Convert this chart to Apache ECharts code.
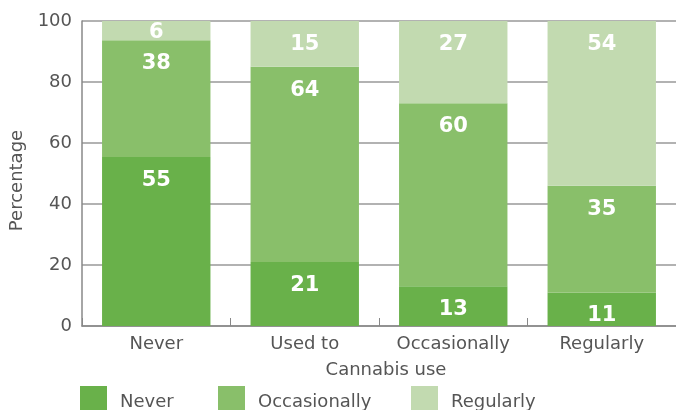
<!DOCTYPE html>
<html>
<head>
<meta charset="utf-8">
<script src="https://cdn.jsdelivr.net/npm/echarts@6/dist/echarts.min.js"></script>
<style>
  html, body { margin: 0; padding: 0; background: #fff; }
  #chart { width: 676px; height: 410px; }
</style>
</head>
<body>
<div id="chart"></div>
<script>
// categories and values (labels are rounded values)
var categories = ['Never', 'Used to', 'Occasionally', 'Regularly'];
var neverVals = [55.4, 21, 13, 11];
var occasionallyVals = [38.3, 64, 60, 35];
var regularlyVals = [6.3, 15, 27, 54];
var yTicks = [0, 20, 40, 60, 80, 100];

var font = 'DejaVu Sans, Verdana, sans-serif';
var colors = ['#69b14a', '#89bf6a', '#c2dab0'];

function makeLabel() {
  return {
    show: true,
    position: 'insideTop',
    distance: 13,
    color: '#fff',
    fontFamily: font,
    fontWeight: 'bold',
    fontSize: 21,
    formatter: function (p) { return Math.round(p.value); }
  };
}

// small top segments need the label pulled up
function regData(vals) {
  return vals.map(function (v) {
    if (v < 10) return { value: v, label: { distance: 1 } };
    return v;
  });
}

function legendAt(name, left) {
  return {
    left: left,
    top: 386,
    padding: 0,
    itemWidth: 27,
    itemHeight: 24,
    icon: 'rect',
    formatter: '{t|{name}}',
    textStyle: {
      fontFamily: font, fontSize: 18, color: '#555',
      rich: { t: { fontFamily: font, fontSize: 18, color: '#555', padding: [9, 0, 0, 8] } }
    },
    data: [name]
  };
}

var chart = echarts.init(document.getElementById('chart'), null, { renderer: 'canvas' });

var option = {
  animation: false,
  color: colors,
  grid: { left: 82, right: 0, top: 21, bottom: 84 },
  legend: [
    legendAt('Never', 80),
    legendAt('Occasionally', 218),
    legendAt('Regularly', 411)
  ],
  xAxis: {
    type: 'category',
    data: categories,
    name: 'Cannabis use',
    nameLocation: 'middle',
    nameGap: 35,
    nameTextStyle: { fontFamily: font, fontSize: 18, color: '#555', padding: [0, 0, 0, 14] },
    axisLine: { lineStyle: { color: '#888', width: 1.5 } },
    axisTick: { show: true, inside: true, length: 8, lineStyle: { color: '#888' } },
    axisLabel: { fontFamily: font, fontSize: 18, color: '#555', margin: 9 }
  },
  yAxis: {
    type: 'value',
    min: yTicks[0],
    max: yTicks[yTicks.length - 1],
    interval: 20,
    name: 'Percentage',
    nameLocation: 'middle',
    nameGap: 34,
    nameTextStyle: { fontFamily: font, fontSize: 18, color: '#555', padding: [0, 14, 0, 0] },
    axisLine: { show: true, lineStyle: { color: '#888', width: 1.5 } },
    axisTick: { show: false },
    axisLabel: { fontFamily: font, fontSize: 18, color: '#555', margin: 10 },
    splitLine: { lineStyle: { color: '#999', width: 1.5 } }
  },
  series: [
    { name: 'Never', type: 'bar', stack: 'use', barWidth: '73%', data: neverVals, label: makeLabel() },
    { name: 'Occasionally', type: 'bar', stack: 'use', barWidth: '73%', data: occasionallyVals, label: makeLabel() },
    { name: 'Regularly', type: 'bar', stack: 'use', barWidth: '73%', data: regData(regularlyVals), label: makeLabel() }
  ]
};

chart.setOption(option);
</script>
</body>
</html>
